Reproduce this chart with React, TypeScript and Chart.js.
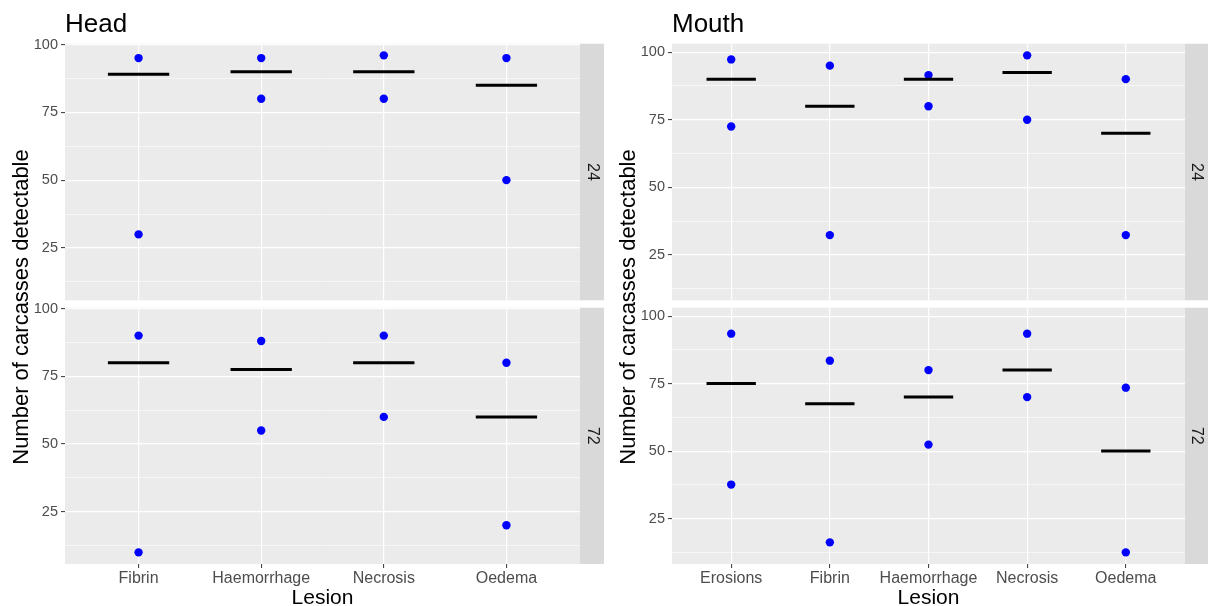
import React, { useEffect, useRef } from "react";
import { Chart, registerables } from "chart.js";

Chart.register(...registerables);

// ---------- data ----------
const HEAD_LESIONS = ["Fibrin", "Haemorrhage", "Necrosis", "Oedema"];
const MOUTH_LESIONS = ["Erosions", "Fibrin", "Haemorrhage", "Necrosis", "Oedema"];

const Y_TICKS = [12.5, 25, 37.5, 50, 62.5, 75, 87.5, 100];
const Y_LABELED = [25, 50, 75, 100];

const HEAD_24_HIGH = [95, 95, 96, 95];
const HEAD_24_LOW = [30, 80, 80, 50];
const HEAD_24_MEDIAN = [89, 90, 90, 85];
const HEAD_72_HIGH = [90, 88, 90, 80];
const HEAD_72_LOW = [10, 55, 60, 20];
const HEAD_72_MEDIAN = [80, 77.5, 80, 60];

const MOUTH_24_HIGH = [97.3, 95, 91.5, 98.8, 90];
const MOUTH_24_LOW = [72.5, 32.3, 80, 75, 32.3];
const MOUTH_24_MEDIAN = [90, 80, 90, 92.5, 70];
const MOUTH_72_HIGH = [93.5, 83.5, 80, 93.5, 73.5];
const MOUTH_72_LOW = [37.6, 16.2, 52.4, 70, 12.5];
const MOUTH_72_MEDIAN = [75, 67.5, 70, 80, 50];

const FONT = '"Liberation Sans", Arial, Helvetica, sans-serif';

function expandedRange(arrays: number[][]) {
  const all = arrays.flat();
  const lo = Math.min(...all);
  const hi = Math.max(...all);
  const pad = (hi - lo) * 0.05;
  return [lo - pad, hi + pad];
}

const HEAD_RANGE = expandedRange([HEAD_24_HIGH, HEAD_24_LOW, HEAD_72_HIGH, HEAD_72_LOW]);
const MOUTH_RANGE = expandedRange([MOUTH_24_HIGH, MOUTH_24_LOW, MOUTH_72_HIGH, MOUTH_72_LOW]);

const facetPlugin = {
  id: "facet",
  beforeDraw(chart: any, _args: any, opts: any) {
    const { ctx, chartArea: a } = chart;
    ctx.save();
    ctx.fillStyle = "#EBEBEB";
    ctx.fillRect(a.left, a.top, a.right - a.left, a.bottom - a.top);
    ctx.fillStyle = "#D9D9D9";
    ctx.fillRect(a.right, a.top, chart.width - a.right, a.bottom - a.top);
    ctx.translate((a.right + chart.width) / 2, (a.top + a.bottom) / 2);
    ctx.rotate(Math.PI / 2);
    ctx.fillStyle = "#1A1A1A";
    ctx.font = `16px ${FONT}`;
    ctx.textAlign = "center";
    ctx.textBaseline = "middle";
    ctx.fillText(opts.label, 0, 0);
    ctx.restore();
  },
};

type FacetProps = {
  left: number;
  top: number;
  width: number;
  height: number;
  cats: string[];
  high: number[];
  low: number[];
  median: number[];
  range: number[];
  label: string;
  showX: boolean;
  yWidth: number;
  stripW: number;
};

function Facet(p: FacetProps) {
  const ref = useRef<HTMLCanvasElement | null>(null);
  useEffect(() => {
    if (!ref.current) return;
    const n = p.cats.length;
    const points: any[] = [];
    p.cats.forEach((_, i) => {
      points.push({ x: i, y: p.high[i] });
      points.push({ x: i, y: p.low[i] });
    });
    const med: any[] = [];
    p.cats.forEach((_, i) => {
      med.push({ x: i - 0.25, y: p.median[i] });
      med.push({ x: i + 0.25, y: p.median[i] });
      med.push({ x: i + 0.5, y: null });
    });
    const chart = new Chart(ref.current, {
      type: "scatter",
      data: {
        datasets: [
          {
            type: "line",
            data: med,
            borderColor: "#000000",
            borderWidth: 3,
            borderCapStyle: "butt",
            pointRadius: 0,
            spanGaps: false,
            fill: false,
            order: 0,
          } as any,
          {
            type: "scatter",
            data: points,
            pointRadius: 4.2,
            pointBackgroundColor: "#0000FF",
            pointBorderColor: "#0000FF",
            pointBorderWidth: 0,
            order: 1,
          } as any,
        ],
      },
      options: {
        responsive: false,
        animation: false,
        events: [],
        layout: { padding: { top: 10, right: p.stripW, left: 0, bottom: p.showX ? 0 : 10 } },
        plugins: {
          legend: { display: false },
          tooltip: { enabled: false },
          facet: { label: p.label },
        } as any,
        scales: {
          x: {
            type: "linear",
            min: -0.6,
            max: n - 1 + 0.6,
            afterBuildTicks: (s: any) => {
              s.ticks = p.cats.map((_, i) => ({ value: i }));
            },
            afterFit: (s: any) => {
              s.height = p.showX ? 30 : 0;
            },
            ticks: {
              display: p.showX,
              autoSkip: false,
              maxRotation: 0,
              minRotation: 0,
              padding: 1,
              color: "#4D4D4D",
              font: { family: FONT, size: 16 },
              callback: (v: any) => p.cats[Math.round(Number(v))] ?? "",
            },
            grid: {
              color: "#FFFFFF",
              lineWidth: 1.2,
              drawTicks: p.showX,
              tickLength: 4,
              tickColor: "#333333",
              tickWidth: 1,
            },
            border: { display: false },
          },
          y: {
            type: "linear",
            min: p.range[0],
            max: p.range[1],
            afterBuildTicks: (s: any) => {
              s.ticks = Y_TICKS.map((v) => ({ value: v }));
            },
            afterFit: (s: any) => {
              s.width = p.yWidth;
            },
            ticks: {
              autoSkip: false,
              padding: 3,
              color: "#4D4D4D",
              font: { family: FONT, size: 14.5 },
              callback: (v: any) => (Y_LABELED.includes(Number(v)) ? String(v) : ""),
            },
            grid: {
              color: "#FFFFFF",
              lineWidth: (c: any) => (c.tick && Y_LABELED.includes(c.tick.value) ? 1.2 : 0.6),
              tickLength: 4,
              tickWidth: 1,
              tickColor: (c: any) =>
                c.tick && Y_LABELED.includes(c.tick.value) ? "#333333" : "rgba(0,0,0,0)",
            },
            border: { display: false },
          },
        },
      } as any,
      plugins: [facetPlugin as any],
    });
    return () => chart.destroy();
  }, []);
  return (
    <canvas
      ref={ref}
      width={p.width}
      height={p.height}
      style={{ position: "absolute", left: p.left, top: p.top, width: p.width, height: p.height }}
    />
  );
}

const textBase: React.CSSProperties = {
  position: "absolute",
  fontFamily: FONT,
  color: "#000000",
  whiteSpace: "nowrap",
};

function YTitle({ cx, cy }: { cx: number; cy: number }) {
  return (
    <div
      style={{
        ...textBase,
        left: cx - 200,
        top: cy - 12,
        width: 400,
        height: 24,
        lineHeight: "24px",
        fontSize: 22,
        textAlign: "center",
        transform: "rotate(-90deg)",
      }}
    >
      Number of carcasses detectable
    </div>
  );
}

function XTitle({ cx }: { cx: number }) {
  return (
    <div
      style={{
        ...textBase,
        left: cx - 100,
        top: 586,
        width: 200,
        lineHeight: "21px",
        fontSize: 21,
        textAlign: "center",
      }}
    >
      Lesion
    </div>
  );
}

function PanelTitle({ left, text }: { left: number; text: string }) {
  return (
    <div style={{ ...textBase, left, top: 10, fontSize: 26, lineHeight: "26px" }}>{text}</div>
  );
}

export default function App() {
  return (
    <div
      style={{
        position: "absolute",
        left: 0,
        top: 0,
        width: 1208,
        height: 606,
        overflow: "hidden",
        background: "#FFFFFF",
      }}
    >
      <Facet left={0} top={32} width={604} height={280} cats={HEAD_LESIONS} high={HEAD_24_HIGH} low={HEAD_24_LOW} median={HEAD_24_MEDIAN} range={HEAD_RANGE} label="24" showX={false} yWidth={65} stripW={24} />
      <Facet left={0} top={296} width={604} height={298} cats={HEAD_LESIONS} high={HEAD_72_HIGH} low={HEAD_72_LOW} median={HEAD_72_MEDIAN} range={HEAD_RANGE} label="72" showX={true} yWidth={65} stripW={24} />
      <Facet left={604} top={32} width={604} height={280} cats={MOUTH_LESIONS} high={MOUTH_24_HIGH} low={MOUTH_24_LOW} median={MOUTH_24_MEDIAN} range={MOUTH_RANGE} label="24" showX={false} yWidth={68} stripW={23} />
      <Facet left={604} top={296} width={604} height={298} cats={MOUTH_LESIONS} high={MOUTH_72_HIGH} low={MOUTH_72_LOW} median={MOUTH_72_MEDIAN} range={MOUTH_RANGE} label="72" showX={true} yWidth={68} stripW={23} />
      <PanelTitle left={65} text="Head" />
      <PanelTitle left={672} text="Mouth" />
      <YTitle cx={21} cy={307} />
      <YTitle cx={628} cy={307} />
      <XTitle cx={322.5} />
      <XTitle cx={928.5} />
    </div>
  );
}
